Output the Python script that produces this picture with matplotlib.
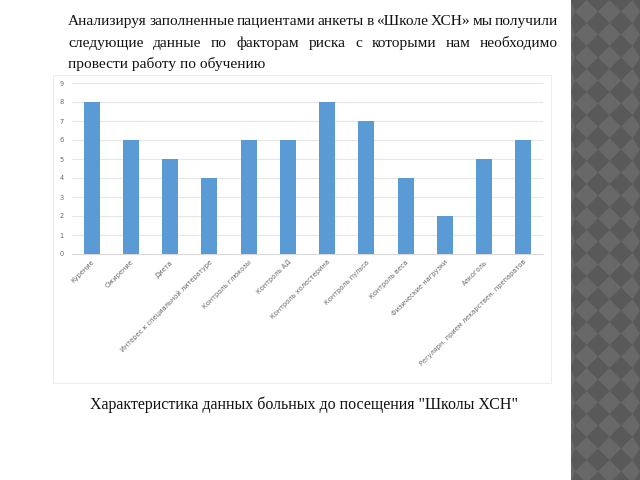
import numpy as np
import matplotlib.pyplot as plt
from matplotlib.patches import Rectangle, Polygon

# data
factors = [
    "Курение", "Ожирение", "Диета", "Интерес к специальной литературе",
    "Контроль глюкозы", "Контроль АД", "Контроль холестерина",
    "Контроль пульса", "Контроль веса", "Физические нагрузки",
    "Алкоголь", "Регулярн. прием лекарствен. препаратов",
]
counts = [8, 6, 5, 4, 6, 6, 8, 7, 4, 2, 5, 6]
y_ticks = list(range(0, 10))

header_lines = [
    "Анализируя заполненные пациентами анкеты в «Школе ХСН» мы получили",
    "следующие данные по факторам риска с которыми нам необходимо",
    "провести работу по обучению",
]
caption = 'Характеристика данных больных до посещения "Школы ХСН"'

W, H = 640, 480
fig = plt.figure(figsize=(6.4, 4.8), dpi=100)
fig.patch.set_facecolor("white")

def fx(px):
    return px / W

def fy(py):
    return 1 - py / H

# decorative checkered strip on the right
strip_x0 = 571
fig.patches.append(Rectangle((fx(strip_x0), 0), fx(W - strip_x0), 1,
                             transform=fig.transFigure, facecolor="#686868",
                             edgecolor="none", zorder=0))
step = 23
for cx in np.arange(strip_x0 + 4, W + step, step):
    for cy in np.arange(-step, H + step, step):
        pts = [(cx, cy - step / 2), (cx + step / 2, cy), (cx, cy + step / 2), (cx - step / 2, cy)]
        pts = [(fx(min(max(x, strip_x0), W)), fy(y)) for x, y in pts]
        fig.patches.append(Polygon(pts, closed=True, transform=fig.transFigure,
                                   facecolor="#595959", edgecolor="none", zorder=1))

# chart frame
fig.patches.append(Rectangle((fx(53), fy(383)), fx(551 - 53), (383 - 75) / H,
                             transform=fig.transFigure, facecolor="white",
                             edgecolor="#eeeeee", linewidth=0.8, zorder=1))

# header paragraph (justified first two lines)
serif = "Liberation Serif"
hsize = 11.1
left_px, right_px = 68, 558
baselines = [25, 47, 68]
fig.canvas.draw()
renderer = fig.canvas.get_renderer()
for i, line in enumerate(header_lines):
    if i == len(header_lines) - 1:
        fig.text(fx(left_px), fy(baselines[i]), line, fontsize=hsize, family=serif,
                 va="baseline", ha="left", color="#111111")
        continue
    words = line.split(" ")
    objs = [fig.text(0, fy(baselines[i]), w, fontsize=hsize, family=serif,
                     va="baseline", ha="left", color="#111111") for w in words]
    widths = [o.get_window_extent(renderer).width for o in objs]
    gap = (right_px - left_px - sum(widths)) / (len(words) - 1)
    x = left_px
    for o, w in zip(objs, widths):
        o.set_x(fx(x))
        x += w + gap

# bar chart
ax = fig.add_axes([fx(72), fy(254), fx(543 - 72), (254 - 83) / H])
ax.set_zorder(2)
ax.patch.set_alpha(0)
pos = np.arange(len(factors))
ax.bar(pos, counts, width=0.41, color="#5b9bd5", zorder=3)
ax.set_xlim(-0.5, len(factors) - 0.5)
ax.set_ylim(0, 9)
ax.set_yticks(y_ticks)
ax.grid(axis="y", color="#e6e6e6", linewidth=0.8, zorder=0)
for s in ["top", "right", "left"]:
    ax.spines[s].set_visible(False)
ax.spines["bottom"].set_color("#d9d9d9")
ax.tick_params(axis="both", length=0, labelsize=4.8, labelcolor="#6a6a6a")
ax.tick_params(axis="y", pad=6)
ax.set_xticks(pos)
ax.set_xticklabels(factors, rotation=45, ha="right", rotation_mode="anchor")

fig.text(fx(304), fy(405), caption, fontsize=11.5, family=serif,
         ha="center", va="center", color="#111111")

fig.savefig("out.png", dpi=100)
